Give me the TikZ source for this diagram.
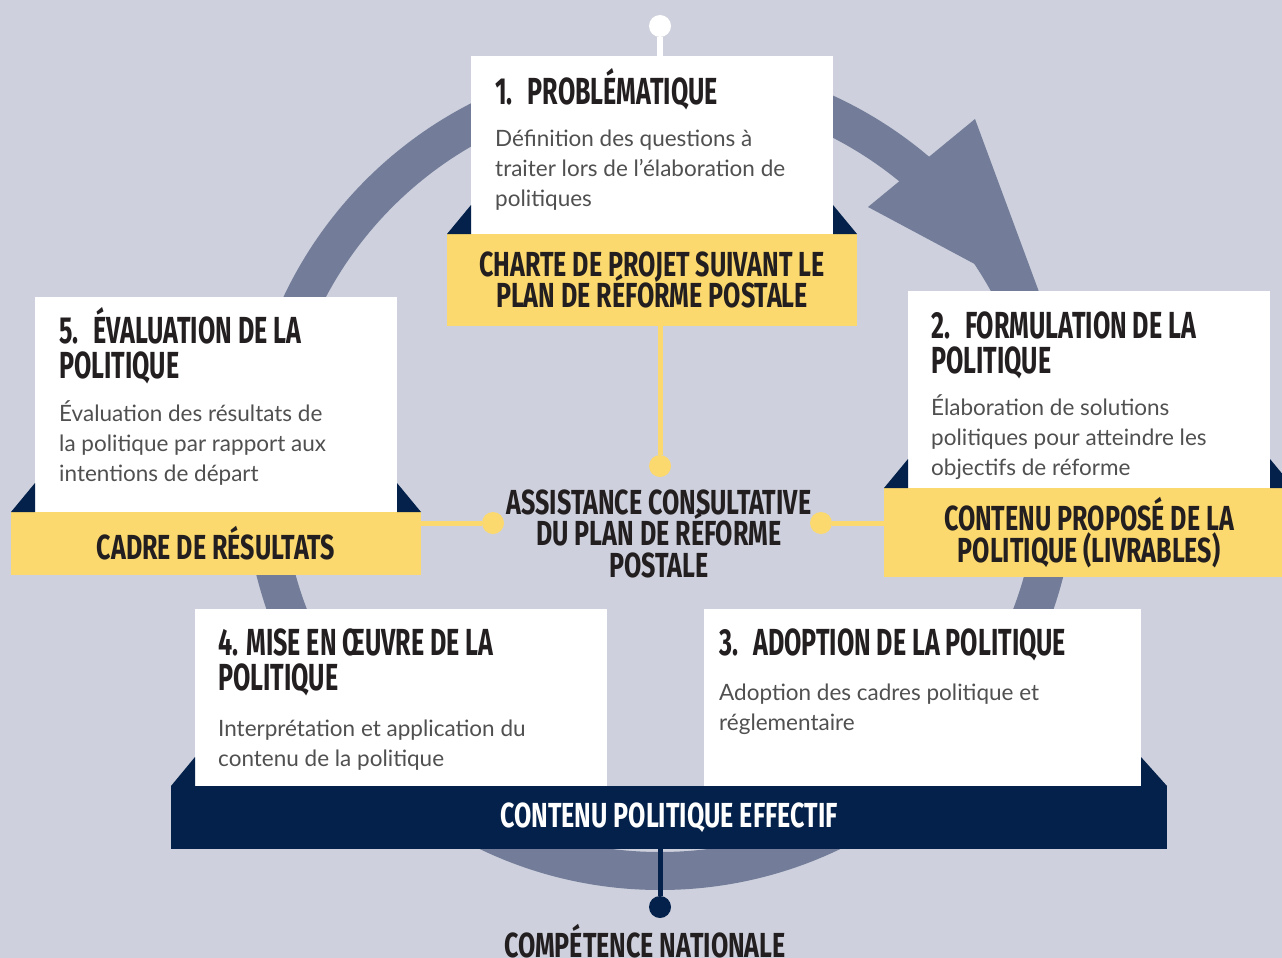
\documentclass[tikz,border=0pt]{standalone}
\usepackage{fontspec}
\setmainfont{Lato}
\newfontfamily\headfont{Fira Sans}[FakeStretch=0.665]
\newfontfamily\bandfont{Fira Sans}[FakeStretch=0.72]
\newfontfamily\midfont{Fira Sans}[FakeStretch=0.72]
\newcommand\tightlines{\lineskiplimit=-40pt\relax}
\usetikzlibrary{positioning}

\definecolor{bgcol}{HTML}{CED1DD}
\definecolor{ringcol}{HTML}{737D99}
\definecolor{gold}{HTML}{FCD96E}
\definecolor{navy}{HTML}{03214A}
\definecolor{ink}{HTML}{231F20}
\definecolor{bodyink}{HTML}{505050}

\tikzset{
  whitebox/.style={fill=white, anchor=north west, inner sep=0, outer sep=0},
  goldband/.style={fill=gold, inner sep=0, outer sep=0, text=ink, align=center,
    font=\bandfont\bfseries\fontsize{34.8}{31.5}\selectfont\tightlines},
  navyband/.style={fill=navy, anchor=north west, inner sep=0, outer sep=0, text=white,
    font=\bandfont\bfseries\fontsize{34.8}{32}\selectfont},
  headtxt/.style={font=\headfont\bfseries\fontsize{37.7}{35}\selectfont, text=ink,
    text width=420pt, align=flush left, inner sep=0, anchor=base west},
  bodytxt/.style={font=\fontsize{22.5}{30}\selectfont, text=bodyink,
    text width=420pt, align=flush left, inner sep=0, anchor=base west},
  midtxt/.style={font=\midfont\bfseries\fontsize{34.8}{31.5}\selectfont\tightlines,
    text=ink, text width=400pt, align=flush center, inner sep=0, anchor=base},
  dot/.style={circle, minimum size=22pt, inner sep=0}
}

\begin{document}
\begin{tikzpicture}[x=1pt, y=-1pt]
  \fill[bgcol] (0,0) rectangle (1282,958);
  \useasboundingbox (0,0) rectangle (1282,958);

  % cycle ring and its arrow head
  \draw[ringcol, line width=38pt] (660,474) circle [radius=397pt];
  \fill[ringcol] (868,207) -- (975,119) -- (1042,300) -- cycle;

  % the five steps
  \node[whitebox, minimum width=362pt, minimum height=178pt] (p1) at (471,56) {};
  \node[goldband, minimum width=410pt, minimum height=92pt, below=0pt of p1] (c1)
    {CHARTE DE PROJET SUIVANT LE\\PLAN DE RÉFORME POSTALE};

  \node[whitebox, minimum width=362pt, minimum height=197pt] (p2) at (908,291) {};
  \node[goldband, minimum width=410pt, minimum height=89pt, below=0pt of p2] (c2)
    {CONTENU PROPOSÉ DE LA\\POLITIQUE (LIVRABLES)};

  \node[whitebox, minimum width=362pt, minimum height=215pt] (p5) at (35,297) {};
  \node[goldband, minimum width=410pt, minimum height=63pt, below=0pt of p5] (c5)
    {CADRE DE RÉSULTATS};

  \node[whitebox, minimum width=412pt, minimum height=177pt] (p4) at (195,609) {};
  \node[whitebox, minimum width=437pt, minimum height=177pt] (p3) at (704,609) {};
  \node[navyband, minimum width=996pt, minimum height=63pt] (nb) at (171,786)
    {CONTENU POLITIQUE EFFECTIF};

  % navy wings
  \foreach \p/\c in {p1/c1, p2/c2, p5/c5} {
    \fill[navy] (\c.north west) -- (\p.south west) -- ([yshift=29pt]\p.south west) -- cycle;
    \fill[navy] (\c.north east) -- (\p.south east) -- ([yshift=29pt]\p.south east) -- cycle;
  }
  \fill[navy] (nb.north west) -- (p4.south west) -- ([yshift=29pt]p4.south west) -- cycle;
  \fill[navy] (nb.north east) -- (p3.south east) -- ([yshift=29pt]p3.south east) -- cycle;

  % step texts
  \node[headtxt] (h1) at ([shift={(24,48)}]p1.north west) {1.\hspace{15pt}PROBLÉMATIQUE};
  \node[bodytxt] (b1) at ([shift={(24,90)}]p1.north west)
    {Définition des questions à\\traiter lors de l’élaboration de\\politiques};

  \node[headtxt] (h2) at ([shift={(23,47)}]p2.north west) {2.\hspace{15pt}FORMULATION DE LA\\POLITIQUE};
  \node[bodytxt] (b2) at ([shift={(23,124)}]p2.north west)
    {Élaboration de solutions\\politiques pour atteindre les\\objectifs de réforme};

  \node[headtxt] (h3) at ([shift={(15,46)}]p3.north west) {3.\hspace{15pt}ADOPTION DE LA POLITIQUE};
  \node[bodytxt] (b3) at ([shift={(15,91)}]p3.north west)
    {Adoption des cadres politique et\\réglementaire};

  \node[headtxt] (h4) at ([shift={(23,46)}]p4.north west) {4. MISE EN ŒUVRE DE LA\\POLITIQUE};
  \node[bodytxt] (b4) at ([shift={(23,127)}]p4.north west)
    {Interprétation et application du\\contenu de la politique};

  \node[headtxt] (h5) at ([shift={(24,46)}]p5.north west) {5.\hspace{15pt}ÉVALUATION DE LA\\POLITIQUE};
  \node[bodytxt] (b5) at ([shift={(24,124)}]p5.north west)
    {Évaluation des résultats de\\la politique par rapport aux\\intentions de départ};

  % centre and links
  \node[midtxt] (asst) at (659,514) {ASSISTANCE CONSULTATIVE\\DU PLAN DE RÉFORME\\POSTALE};

  \node[dot, fill=white] (top) at (660,26) {};
  \draw[white, line width=6pt] (top) -- (top |- p1.north);

  \node[dot, fill=gold] (dc) at (660,466) {};
  \node[dot, fill=gold] (dl) at (493,523) {};
  \node[dot, fill=gold] (dr) at (821,523) {};
  \draw[gold, line width=5pt] (dc) -- (dc |- c1.south);
  \draw[gold, line width=5pt] (dl) -- (dl -| c5.east);
  \draw[gold, line width=5pt] (dr) -- (dr -| c2.west);

  \node[dot, fill=navy] (dn) at (660,907) {};
  \draw[navy, line width=5pt] (dn) -- (dn |- nb.south);
  \node[midtxt] (comp) at (645,957) {COMPÉTENCE NATIONALE};
\end{tikzpicture}
\end{document}
